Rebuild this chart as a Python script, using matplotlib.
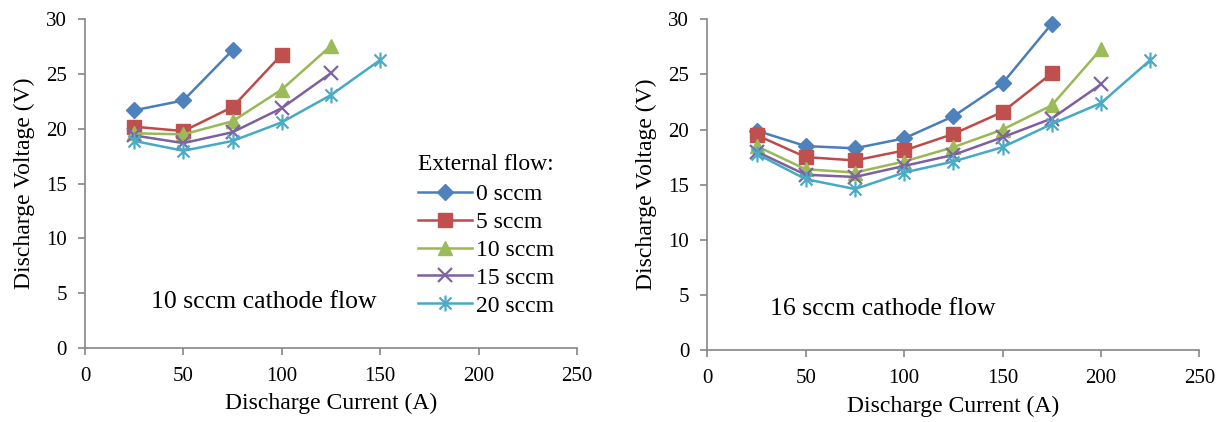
"""Discharge voltage vs. current for two cathode flows, one curve per external flow."""
import matplotlib
matplotlib.use("Agg")
import matplotlib.pyplot as plt
from matplotlib.path import Path

plt.rcParams["font.family"] = ["Liberation Serif", "DejaVu Serif"]

current = [25, 50, 75, 100, 125, 150, 175, 200, 225]
flow_labels = ["0 sccm", "5 sccm", "10 sccm", "15 sccm", "20 sccm"]

# 10 sccm cathode flow
v10_0 = [21.7, 22.6, 27.2]
v10_5 = [20.2, 19.8, 22.0, 26.8]
v10_10 = [19.6, 19.5, 20.7, 23.6, 27.6]
v10_15 = [19.4, 18.7, 19.7, 21.9, 25.1]
v10_20 = [18.9, 18.0, 18.9, 20.6, 23.1, 26.3]

# 16 sccm cathode flow
v16_0 = [19.9, 18.5, 18.3, 19.2, 21.2, 24.2, 29.6]
v16_5 = [19.5, 17.5, 17.2, 18.1, 19.6, 21.6, 25.1]
v16_10 = [18.5, 16.4, 16.1, 17.1, 18.4, 20.0, 22.2, 27.3]
v16_15 = [18.0, 15.9, 15.7, 16.7, 17.7, 19.3, 21.0, 24.1]
v16_20 = [17.8, 15.5, 14.6, 16.1, 17.1, 18.4, 20.5, 22.4, 26.3]

# excel-style star: an x with a vertical bar through it
star = Path([(-0.75, -0.75), (0.75, 0.75), (-0.75, 0.75), (0.75, -0.75), (0, -1), (0, 1)],
            [Path.MOVETO, Path.LINETO, Path.MOVETO, Path.LINETO, Path.MOVETO, Path.LINETO])

styles = [
    dict(color="#4A7EBB", mfc="#4F81BD", mec="#4F81BD", marker="D", ms=8.5),
    dict(color="#BE4B48", mfc="#C0504D", mec="#C0504D", marker="s", ms=10),
    dict(color="#98B954", mfc="#9BBB59", mec="#9BBB59", marker="^", ms=10.5),
    dict(color="#7D60A0", mfc="none", mec="#8064A2", marker="x", ms=9.5, mew=1.6),
    dict(color="#46AAC5", mfc="none", mec="#4BACC6", marker=star, ms=11.5, mew=1.6),
]

GRAY = "#868686"
TICK_FS = 15
LABEL_FS = 17
NOTE_FS = 18.5


def style_axes(ax):
    ax.set_xlim(0, 250)
    ax.set_ylim(0, 30)
    ax.set_xticks(range(0, 251, 50))
    ax.set_yticks(range(0, 31, 5))
    for side in ("top", "right"):
        ax.spines[side].set_visible(False)
    for side in ("left", "bottom"):
        ax.spines[side].set_color(GRAY)
        ax.spines[side].set_linewidth(1.2)
    ax.tick_params(direction="out", length=5, width=1.2, color=GRAY,
                   labelsize=TICK_FS, pad=8)
    ax.tick_params(axis="x", pad=9)
    ax.set_xlabel("Discharge Current (A)", fontsize=LABEL_FS, labelpad=5)
    ax.set_ylabel("Discharge Voltage (V)", fontsize=LABEL_FS, labelpad=8)


fig = plt.figure(figsize=(12.28, 4.22), dpi=100)
ax1 = fig.add_axes([0.0692, 0.1761, 0.4007, 0.7777])
ax2 = fig.add_axes([0.5760, 0.1706, 0.4007, 0.7836])

left_sets = [v10_0, v10_5, v10_10, v10_15, v10_20]
right_sets = [v16_0, v16_5, v16_10, v16_15, v16_20]

for ax, sets in ((ax1, left_sets), (ax2, right_sets)):
    for vals, lab, st in zip(sets, flow_labels, styles):
        ax.plot(current[:len(vals)], vals, label=lab, lw=1.8, clip_on=False, **st)
    style_axes(ax)

ax1.text(0.1335, 0.139, "10 sccm cathode flow", transform=ax1.transAxes,
         fontsize=NOTE_FS, va="center", ha="left")
ax2.text(0.1274, 0.124, "16 sccm cathode flow", transform=ax2.transAxes,
         fontsize=NOTE_FS, va="center", ha="left")

leg = ax1.legend(title="External flow:", loc="upper left", frameon=False,
                 bbox_to_anchor=(418 / 1228, 1 - 154 / 422), bbox_transform=fig.transFigure,
                 fontsize=LABEL_FS, title_fontsize=LABEL_FS, handlelength=2.3,
                 handletextpad=0.17, labelspacing=0.27, borderpad=0, borderaxespad=0,
                 alignment="left")
# a little more room between the title and the first entry
leg._legend_box.sep = 0.27 * LABEL_FS + 1.5

fig.savefig("out.png", dpi=100)
